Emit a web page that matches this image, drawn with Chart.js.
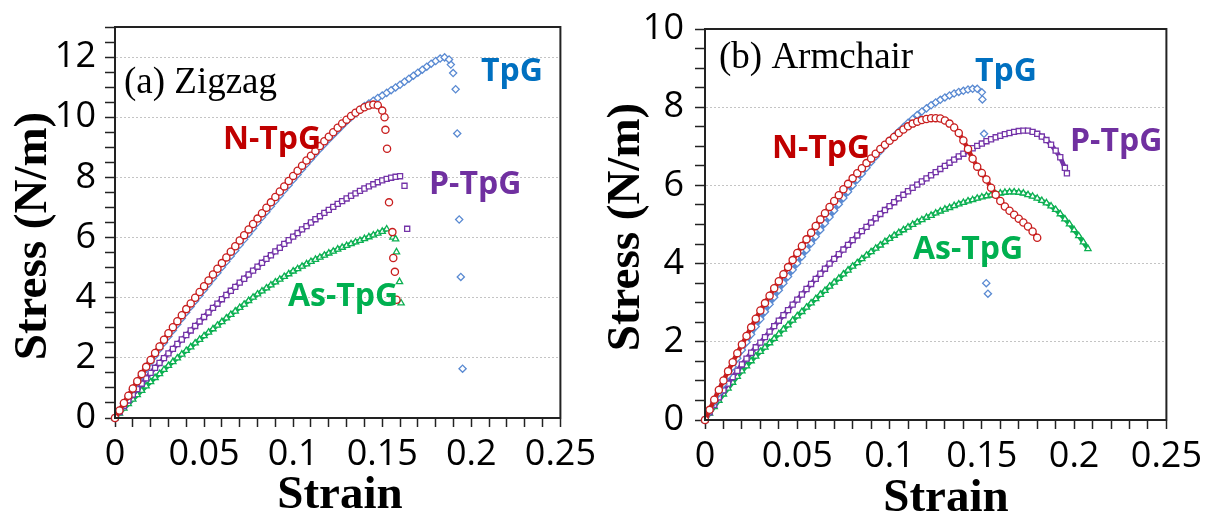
<!DOCTYPE html>
<html lang="en">
<head>
<meta charset="UTF-8">
<title>Stress-strain curves</title>
<script src="https://cdn.jsdelivr.net/npm/chart.js@4.4.0/dist/chart.umd.min.js"></script>
<style>
  body { margin: 0; background: #fff; }
  canvas { position: absolute; top: 0; }
</style>
</head>
<body>
<canvas id="zigzag" width="606" height="513" style="left:0"></canvas>
<canvas id="armchair" width="606" height="513" style="left:606px"></canvas>
<script>
// shared strain samples (the curves use the first n entries)
const strain = [0, 0.0025, 0.005, 0.0075, 0.01, 0.0125, 0.015, 0.0175, 0.02, 0.0225, 0.025, 0.0275,
  0.03, 0.0325, 0.035, 0.0375, 0.04, 0.0425, 0.045, 0.0475, 0.05, 0.0525, 0.055, 0.0575, 0.06, 0.0625,
  0.065, 0.0675, 0.07, 0.0725, 0.075, 0.0775, 0.08, 0.0825, 0.085, 0.0875, 0.09, 0.0925, 0.095, 0.0975,
  0.1, 0.1025, 0.105, 0.1075, 0.11, 0.1125, 0.115, 0.1175, 0.12, 0.1225, 0.125, 0.1275, 0.13, 0.1325,
  0.135, 0.1375, 0.14, 0.1425, 0.145, 0.1475, 0.15, 0.1525, 0.155, 0.1575, 0.16, 0.1625, 0.165, 0.1675,
  0.17, 0.1725, 0.175, 0.1775, 0.18, 0.1825, 0.185, 0.1875, 0.19, 0.1925, 0.195, 0.1975, 0.2, 0.2025,
  0.205, 0.2075];

// (a) zigzag
const zzN = [0, 0.25, 0.5, 0.74, 0.98, 1.22, 1.46, 1.7, 1.93, 2.16, 2.38, 2.6, 2.82, 3.02, 3.22, 3.42,
  3.62, 3.81, 4.0, 4.19, 4.38, 4.57, 4.77, 4.96, 5.15, 5.34, 5.53, 5.71, 5.9, 6.08, 6.27, 6.45, 6.63,
  6.81, 6.99, 7.17, 7.35, 7.53, 7.7, 7.88, 8.05, 8.22, 8.39, 8.56, 8.72, 8.88, 9.04, 9.2, 9.35, 9.5,
  9.65, 9.79, 9.92, 10.04, 10.15, 10.25, 10.33, 10.39, 10.42, 10.4, 10.22];
const zzNTailX = [0.1513, 0.1518, 0.1527, 0.1538, 0.1557, 0.1562, 0.1571, 0.158];
const zzNTailY = [10.0, 9.58, 8.95, 7.17, 6.18, 5.32, 4.86, 3.93];

const zzT = [0, 0.24, 0.48, 0.72, 0.95, 1.18, 1.41, 1.64, 1.86, 2.08, 2.3, 2.51, 2.72, 2.92, 3.12,
  3.32, 3.52, 3.71, 3.9, 4.08, 4.27, 4.46, 4.65, 4.83, 5.02, 5.2, 5.39, 5.57, 5.76, 5.94, 6.13, 6.31,
  6.5, 6.68, 6.86, 7.04, 7.22, 7.4, 7.58, 7.75, 7.93, 8.1, 8.28, 8.45, 8.62, 8.79, 8.95, 9.11, 9.27,
  9.42, 9.57, 9.72, 9.87, 10.0, 10.13, 10.25, 10.37, 10.46, 10.55, 10.64, 10.72, 10.81, 10.9, 10.99,
  11.08, 11.18, 11.28, 11.38, 11.48, 11.58, 11.68, 11.78, 11.87, 11.95, 11.99, 11.92];
const zzTTailX = [0.1885, 0.1898, 0.1912, 0.1921, 0.1932, 0.1941, 0.1951];
const zzTTailY = [11.75, 11.47, 10.93, 9.46, 6.6, 4.69, 1.64];

const zzP = [0, 0.2, 0.4, 0.59, 0.78, 0.96, 1.14, 1.32, 1.5, 1.67, 1.83, 1.99, 2.15, 2.3, 2.46, 2.61,
  2.76, 2.91, 3.06, 3.21, 3.36, 3.51, 3.66, 3.8, 3.95, 4.09, 4.23, 4.36, 4.5, 4.63, 4.77, 4.9, 5.03,
  5.16, 5.29, 5.41, 5.54, 5.66, 5.79, 5.91, 6.03, 6.15, 6.27, 6.38, 6.5, 6.61, 6.71, 6.82, 6.92, 7.02,
  7.12, 7.21, 7.3, 7.39, 7.47, 7.55, 7.63, 7.7, 7.77, 7.84, 7.9, 7.95, 7.99, 8.02, 8.04];
const zzPTailX = [0.1625, 0.164];
const zzPTailY = [7.72, 6.29];

const zzAs = [0, 0.16, 0.32, 0.47, 0.62, 0.77, 0.91, 1.06, 1.2, 1.34, 1.47, 1.61, 1.74, 1.87, 1.99,
  2.12, 2.24, 2.36, 2.49, 2.61, 2.73, 2.85, 2.96, 3.08, 3.2, 3.32, 3.44, 3.55, 3.67, 3.78, 3.9, 4.01,
  4.12, 4.22, 4.32, 4.42, 4.52, 4.61, 4.7, 4.79, 4.88, 4.96, 5.04, 5.12, 5.2, 5.27, 5.34, 5.41, 5.48,
  5.54, 5.61, 5.67, 5.73, 5.79, 5.85, 5.9, 5.96, 6.02, 6.08, 6.14, 6.2, 6.28];
const zzAsTailX = [0.156, 0.1575, 0.158, 0.1597, 0.1606];
const zzAsTailY = [6.01, 5.95, 5.52, 4.53, 3.82];

// (b) armchair
const acN = [0, 0.26, 0.52, 0.77, 1.01, 1.25, 1.48, 1.71, 1.93, 2.15, 2.37, 2.59, 2.8, 2.99, 3.18,
  3.37, 3.55, 3.73, 3.91, 4.09, 4.27, 4.45, 4.62, 4.79, 4.96, 5.13, 5.29, 5.45, 5.6, 5.75, 5.9, 6.04,
  6.18, 6.31, 6.44, 6.57, 6.69, 6.81, 6.93, 7.04, 7.14, 7.24, 7.34, 7.43, 7.51, 7.58, 7.63, 7.67, 7.7,
  7.72, 7.72, 7.71, 7.66, 7.58, 7.48, 7.34, 7.15, 6.93, 6.68, 6.48, 6.32, 6.15, 5.94, 5.76, 5.6, 5.46,
  5.35, 5.25, 5.15, 5.05, 4.95, 4.82, 4.66];

const acT = [0, 0.23, 0.46, 0.69, 0.92, 1.14, 1.36, 1.58, 1.79, 1.99, 2.19, 2.39, 2.58, 2.77, 2.96,
  3.14, 3.32, 3.5, 3.67, 3.84, 4.01, 4.18, 4.35, 4.52, 4.69, 4.86, 5.03, 5.19, 5.36, 5.52, 5.68, 5.84,
  6.0, 6.15, 6.3, 6.45, 6.6, 6.74, 6.88, 7.01, 7.14, 7.26, 7.38, 7.49, 7.6, 7.7, 7.8, 7.89, 7.97, 8.05,
  8.12, 8.19, 8.25, 8.3, 8.35, 8.39, 8.42, 8.45, 8.47, 8.47, 8.38];
const acTTailX = [0.1503, 0.1512, 0.1524, 0.1533];
const acTTailY = [8.2, 7.32, 3.5, 3.23];

const acP = [0, 0.2, 0.39, 0.58, 0.76, 0.93, 1.1, 1.26, 1.42, 1.57, 1.72, 1.86, 1.98, 2.12, 2.26,
  2.4, 2.54, 2.68, 2.81, 2.95, 3.08, 3.21, 3.35, 3.48, 3.61, 3.74, 3.87, 4.0, 4.12, 4.24, 4.36, 4.48,
  4.6, 4.72, 4.83, 4.94, 5.05, 5.16, 5.27, 5.37, 5.47, 5.57, 5.67, 5.76, 5.85, 5.94, 6.02, 6.1, 6.18,
  6.26, 6.34, 6.42, 6.5, 6.58, 6.66, 6.74, 6.81, 6.88, 6.95, 7.01, 7.07, 7.13, 7.18, 7.23, 7.27, 7.31,
  7.34, 7.37, 7.39, 7.4, 7.4, 7.37, 7.32, 7.25, 7.16, 7.04, 6.89, 6.72, 6.45];
const acPTailX = [0.1961];
const acPTailY = [6.31];

const acAs = [0, 0.17, 0.34, 0.5, 0.66, 0.81, 0.96, 1.11, 1.25, 1.38, 1.51, 1.63, 1.75, 1.86, 1.97,
  2.08, 2.2, 2.32, 2.43, 2.55, 2.66, 2.77, 2.88, 2.99, 3.1, 3.21, 3.31, 3.42, 3.52, 3.62, 3.73, 3.83,
  3.93, 4.02, 4.12, 4.21, 4.3, 4.39, 4.47, 4.56, 4.64, 4.72, 4.79, 4.86, 4.93, 5.0, 5.06, 5.12, 5.18,
  5.23, 5.29, 5.34, 5.39, 5.43, 5.48, 5.52, 5.56, 5.6, 5.63, 5.67, 5.7, 5.73, 5.75, 5.78, 5.8, 5.82,
  5.83, 5.83, 5.82, 5.8, 5.76, 5.72, 5.67, 5.61, 5.55, 5.47, 5.38, 5.27, 5.14, 5.01, 4.86, 4.71, 4.55,
  4.38];

const xTickLabels = ['0', '0.05', '0.1', '0.15', '0.2', '0.25'];

const RED = '#c81e1e', BLUE = '#5a8ad2', PURPLE = '#7434a8', GREEN = '#0cb052';
const TICK_FONT = { family: '"Open Sans"', size: 36, lineHeight: 1 };

// one curve = dense marker chain + the scattered points after failure
function series(stress, tailX, tailY, color, style) {
  const marker = {
    showLine: false,
    pointStyle: style,
    pointRadius: 3.6,
    pointBorderWidth: 1.3,
    borderColor: color,
    backgroundColor: '#fff',
    clip: false
  };
  const curve = Object.assign({}, marker, {
    data: stress.map((y, i) => ({ x: strain[i], y: y })),
    showLine: true,
    borderWidth: 4.5
  });
  const tail = Object.assign({}, marker, {
    data: tailX.map((x, i) => ({ x: x, y: tailY[i] }))
  });
  return [curve, tail];
}

// frame, axis titles, panel name and curve labels
const decor = {
  id: 'decor',
  afterDraw(chart, args, o) {
    const { ctx, chartArea: a } = chart;
    ctx.save();
    ctx.strokeStyle = '#222';
    ctx.lineWidth = 2;
    ctx.strokeRect(a.left, a.top, a.right - a.left, a.bottom - a.top);

    ctx.fillStyle = '#000';
    ctx.textAlign = 'center';
    ctx.textBaseline = 'alphabetic';
    ctx.font = 'bold 47px "Liberation Serif"';
    ctx.fillText('Strain', o.xTitle[0], o.xTitle[1]);
    ctx.save();
    ctx.translate(o.yTitle[0], o.yTitle[1]);
    ctx.rotate(-Math.PI / 2);
    ctx.fillText('Stress (N/m)', 0, 0);
    ctx.restore();

    ctx.textAlign = 'left';
    ctx.font = '37px "Liberation Serif"';
    ctx.fillText(o.name[0], o.name[1], o.name[2]);

    ctx.font = 'bold 32px "Open Sans"';
    o.labels.forEach(l => {
      ctx.fillStyle = l[1];
      ctx.fillText(l[0], l[2], l[3]);
    });
    ctx.restore();
  }
};

function panel(id, yMax, g, datasets, deco) {
  new Chart(document.getElementById(id), {
    type: 'scatter',
    data: { datasets: datasets },
    plugins: [decor],
    options: {
      responsive: false,
      animation: false,
      events: [],
      layout: { padding: { top: g.top, right: g.right, left: 0, bottom: 0 } },
      plugins: { legend: { display: false }, tooltip: { enabled: false }, decor: deco },
      scales: {
        x: {
          type: 'linear', min: 0, max: 0.25,
          afterFit: s => { s.height = g.xh; },
          ticks: {
            stepSize: 0.01, autoSkip: false, maxRotation: 0, padding: 10, color: '#000', font: TICK_FONT,
            callback: v => {
              const k = Math.round(v * 100);
              return k % 5 === 0 ? xTickLabels[k / 5] : '';
            }
          },
          grid: { drawOnChartArea: false, tickLength: 9, tickColor: '#222', tickWidth: 1.5 },
          border: { color: '#222', width: 2 }
        },
        y: {
          type: 'linear', min: 0, max: yMax,
          afterFit: s => { s.width = g.yw; },
          ticks: {
            stepSize: 0.5, autoSkip: false, padding: g.ypad, color: '#000', font: TICK_FONT,
            callback: v => (v % 2 === 0 ? String(v) : '')
          },
          grid: {
            color: c => (c.tick && c.tick.value % 2 === 0 && c.tick.value > 0 && c.tick.value < yMax) ? '#c4c4c4' : 'rgba(0,0,0,0)',
            lineWidth: 1, tickLength: 10, tickColor: '#222', tickWidth: 1.5
          },
          border: { color: '#222', width: 2, dash: [2, 2] }
        }
      }
    }
  });
}

panel('zigzag', 13, { top: 24, right: 19, yw: 115, xh: 95, ypad: 9 }, [
  ...series(zzN, zzNTailX, zzNTailY, RED, 'circle'),
  ...series(zzT, zzTTailX, zzTTailY, BLUE, 'rectRot'),
  ...series(zzP, zzPTailX, zzPTailY, PURPLE, 'rect'),
  ...series(zzAs, zzAsTailX, zzAsTailY, GREEN, 'triangle')
], {
  xTitle: [340, 508], yTitle: [46, 236], name: ['(a) Zigzag', 124, 93],
  labels: [['TpG', '#0070c0', 481, 81], ['N-TpG', '#c00000', 223, 149],
           ['P-TpG', '#7030a0', 429, 194], ['As-TpG', '#00b050', 288, 306]]
});

panel('armchair', 10, { top: 27, right: 34, yw: 99, xh: 93, ypad: 11 }, [
  ...series(acN, [], [], RED, 'circle'),
  ...series(acT, acTTailX, acTTailY, BLUE, 'rectRot'),
  ...series(acP, acPTailX, acPTailY, PURPLE, 'rect'),
  ...series(acAs, [], [], GREEN, 'triangle')
], {
  xTitle: [340, 511], yTitle: [33, 227], name: ['(b) Armchair', 113, 68],
  labels: [['TpG', '#0070c0', 369, 81], ['N-TpG', '#c00000', 166, 158],
           ['P-TpG', '#7030a0', 464, 151], ['As-TpG', '#00b050', 307, 259]]
});
</script>
</body>
</html>
